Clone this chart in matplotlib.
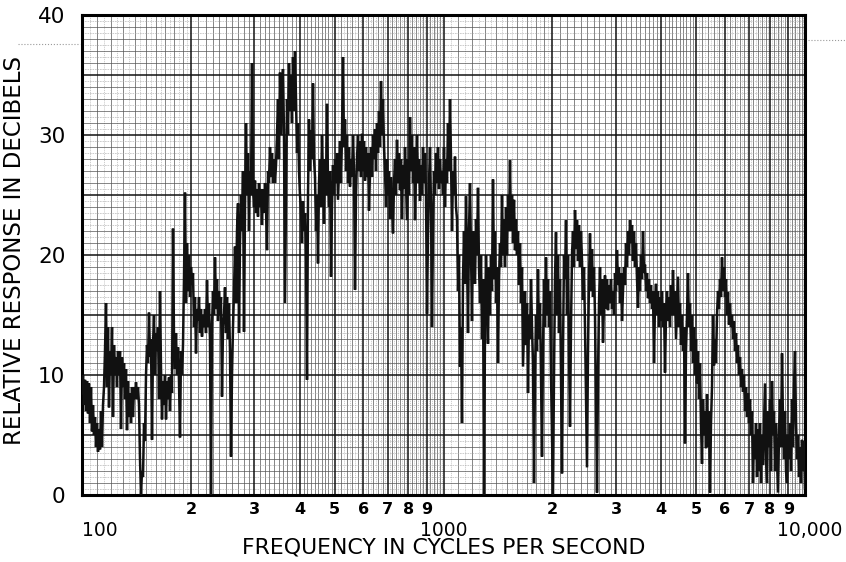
import numpy as np
import matplotlib
matplotlib.use("Agg")
import matplotlib.pyplot as plt
from matplotlib.lines import Line2D
from matplotlib.transforms import offset_copy

plt.rcParams['font.family'] = ['DejaVu Sans']

# Relative response (dB) at equal steps
# along the logarithmic frequency sweep, 100 Hz -> 10,000 Hz.
response_db = [
    8.5, 10.0, 7.5, 9.6, 7.0, 9.5, 6.8, 9.3, 6.0, 9.0,
    5.3, 7.5, 5.0, 6.5, 4.0, 6.0, 3.6, 5.5, 3.8, 7.0,
    4.0, 7.5, 9.0, 12.0, 16.0, 9.0, 14.0, 7.3, 12.0, 10.0,
    14.0, 6.5, 12.5, 10.0, 11.5, 9.0, 12.0, 10.0, 12.0, 5.5,
    11.5, 9.0, 11.0, 8.0, 10.5, 5.4, 9.5, 6.5, 8.5, 6.0,
    9.0, 6.5, 9.0, 8.0, 9.4, 8.0, 9.0, 7.5, 3.0, 0.0,
    2.0, 1.5, 6.0, 4.5, 10.0, 12.5, 11.0, 15.2, 11.5, 13.0,
    4.6, 12.5, 15.0, 10.0, 13.5, 12.0, 14.0, 8.0, 17.0, 10.5,
    6.3, 9.5, 7.5, 10.0, 6.3, 9.5, 8.0, 9.8, 7.0, 10.0,
    8.5, 22.2, 13.0, 10.5, 13.5, 10.0, 12.3, 9.5, 4.8, 12.0,
    10.0, 12.5, 18.0, 25.2, 16.0, 21.0, 17.0, 20.0, 16.5, 19.0,
    17.5, 18.5, 14.0, 16.5, 11.8, 15.5, 14.5, 16.5, 13.5, 15.5,
    13.2, 15.0, 14.0, 15.5, 13.5, 17.9, 14.0, 16.0, 13.0, 0.0,
    14.0, 17.0, 15.0, 19.8, 15.5, 18.0, 14.5, 17.0, 15.0, 16.5,
    8.2, 14.0, 15.0, 17.3, 13.5, 16.5, 13.0, 16.0, 12.0, 3.2,
    10.0, 14.0, 17.0, 20.7, 16.0, 22.0, 24.3, 13.5, 21.0, 25.0,
    22.0, 27.0, 13.6, 24.0, 31.0, 25.0, 28.5, 22.0, 27.0, 25.0,
    36.0, 25.5, 24.0, 26.2, 23.5, 25.5, 23.2, 26.0, 24.0, 25.5,
    22.5, 25.5, 23.5, 26.0, 24.0, 20.4, 27.0, 26.0, 29.0, 26.5,
    28.5, 26.0, 28.0, 26.0, 27.5, 30.0, 33.0, 28.0, 35.2, 30.0,
    34.0, 35.5, 30.0, 16.0, 25.0, 33.0, 30.0, 36.0, 32.0, 35.0,
    31.0, 36.5, 32.0, 37.0, 33.0, 28.5, 31.0, 27.0, 25.0, 23.8,
    21.0, 24.5, 22.0, 23.5, 20.0, 9.6, 25.0, 31.3, 27.0, 30.4,
    28.0, 34.3, 28.0, 26.5, 22.0, 25.0, 19.3, 26.0, 28.0, 24.0,
    30.0, 26.0, 22.6, 28.0, 25.0, 32.6, 26.0, 24.0, 27.0, 18.2,
    24.0, 27.5, 25.0, 28.0, 26.0, 28.5, 24.6, 27.0, 29.5, 26.0,
    30.0, 36.5, 29.0, 31.3, 27.0, 30.0, 26.0, 29.0, 25.7, 28.0,
    26.5, 30.0, 27.0, 17.1, 25.0, 28.0, 30.0, 27.0, 29.5, 26.5,
    30.1, 27.0, 29.5, 26.2, 29.0, 26.5, 28.5, 23.7, 27.0, 29.0,
    26.5, 30.0, 28.0, 30.5, 27.0, 31.0, 28.5, 32.0, 29.0, 34.5,
    30.0, 33.0, 29.0, 27.0, 24.0, 28.0, 25.0, 27.0, 23.0, 26.5,
    24.0, 21.8, 26.0, 28.0, 25.0, 29.6, 26.0, 28.5, 25.4, 28.0,
    23.0, 27.5, 25.5, 29.0, 26.0, 22.9, 28.0, 25.0, 31.5, 27.0,
    30.0, 26.0, 29.0, 22.9, 27.0, 30.0, 26.0, 28.0, 24.5, 27.5,
    25.0, 29.0, 26.0, 28.5, 25.0, 15.1, 22.0, 26.0, 29.0, 24.0,
    14.0, 22.0, 27.0, 25.0, 28.5, 26.0, 29.0, 25.5, 28.0, 26.0,
    27.0, 25.0, 29.0, 24.0, 28.0, 26.0, 31.0, 27.0, 33.0, 28.0,
    22.0, 27.0, 25.0, 28.2, 24.0, 23.0, 17.0, 20.0, 10.7, 14.0,
    6.0, 18.0, 22.0, 17.6, 24.9, 20.0, 13.5, 22.0, 26.0, 20.0,
    14.5, 22.0, 19.0, 17.6, 23.0, 20.0, 25.6, 19.0, 16.0, 20.0,
    13.0, 18.0, 0.0, 14.0, 20.0, 16.0, 12.6, 19.0, 15.0, 20.0,
    17.0, 26.3, 18.0, 22.0, 16.0, 19.0, 11.0, 18.0, 21.0, 19.0,
    25.0, 20.0, 23.0, 19.0, 24.0, 20.0, 25.0, 22.0, 27.9, 22.0,
    25.0, 21.0, 24.6, 20.4, 23.0, 20.0, 22.0, 17.5, 21.0, 16.0,
    19.0, 10.7, 14.0, 17.0, 12.5, 16.0, 8.5, 15.0, 13.0, 18.0,
    14.0, 11.0, 1.0, 10.0, 15.0, 12.0, 18.8, 13.0, 16.0, 10.0,
    3.2, 12.0, 18.0, 14.0, 19.8, 15.0, 18.0, 14.0, 17.0, 10.0,
    5.0, 0.0, 10.0, 18.0, 21.9, 15.0, 20.0, 13.5, 18.0, 10.0,
    1.8, 12.0, 20.0, 18.0, 22.9, 15.0, 20.0, 12.0, 5.7, 14.0,
    20.0, 22.0, 19.0, 23.75, 20.5, 22.9, 19.5, 22.5, 19.0, 22.0,
    19.5, 16.25, 19.0, 14.0, 8.0, 2.3, 12.0, 18.0, 21.8, 17.0,
    20.5, 16.5, 19.0, 15.0, 8.0, 0.2, 10.0, 16.0, 19.0, 15.0,
    18.0, 12.7, 16.0, 18.3, 15.5, 18.0, 15.4, 17.5, 16.0, 18.0,
    15.5, 17.0, 15.0, 18.5, 17.0, 20.4, 17.5, 19.0, 16.0, 18.5,
    14.5, 17.0, 19.0, 17.5, 21.0, 19.0, 22.0, 20.0, 22.9, 21.0,
    22.5, 19.5, 22.0, 19.0, 21.0, 18.0, 15.6, 19.0, 17.0, 20.0,
    18.0, 22.0, 18.5, 19.2, 17.0, 18.5, 16.4, 18.0, 16.0, 17.5,
    15.5, 17.0, 11.0, 16.0, 17.6, 15.0, 17.0, 14.0, 16.5, 14.5,
    17.0, 14.0, 16.0, 10.2, 15.0, 17.0, 14.5, 16.5, 14.0, 17.5,
    15.0, 18.75, 15.0, 17.0, 13.0, 15.5, 18.2, 14.0, 16.0, 12.5,
    15.0, 12.0, 14.0, 4.3, 12.0, 15.0, 18.5, 14.0, 16.0, 12.0,
    15.0, 11.0, 14.0, 10.0, 13.0, 9.3, 12.0, 8.0, 11.0, 6.0,
    2.6, 8.0, 5.0, 7.0, 3.9, 8.4, 4.0, 7.0, 0.2, 6.0,
    9.0, 15.0, 10.8, 13.0, 11.0, 15.0, 17.0, 15.5, 18.0, 16.5,
    19.8, 17.0, 19.0, 16.5, 18.0, 15.0, 16.9, 14.2, 16.0, 14.0,
    15.0, 13.0, 14.5, 12.0, 13.5, 11.0, 12.5, 10.0, 11.5, 9.0,
    10.5, 8.6, 10.0, 7.0, 9.0, 6.5, 8.5, 6.0, 8.0, 5.0,
    7.0, 1.0, 5.0, 3.0, 6.0, 1.5, 5.5, 2.0, 6.0, 1.0,
    5.0, 2.5, 6.0, 9.3, 3.0, 1.0, 7.0, 4.0, 8.0, 2.0,
    9.5, 5.0, 7.0, 2.0, 6.0, 3.0, 0.2, 5.0, 8.0, 4.0,
    11.8, 6.0, 3.0, 7.0, 2.0, 1.0, 5.0, 3.0, 6.0, 2.0,
    8.0, 4.0, 9.0, 12.0, 6.0, 3.0, 5.0, 1.5, 4.0, 1.0,
    4.6, 2.0, 4.5, 0.6,
]
f_start, f_stop = 100, 10000
sweep_hz = np.geomspace(f_start, f_stop, len(response_db))

y_ticks = [0, 10, 20, 30, 40]
decades = [100, 1000]
decade_digits = [2, 3, 4, 5, 6, 7, 8, 9]
decade_labels = {100: "100", 1000: "1000", 10000: "10,000"}

W, H = 846, 562
fig = plt.figure(figsize=(W / 100, H / 100), dpi=100)
fig.patch.set_facecolor("white")
ax = fig.add_axes([82 / W, 1 - 495 / H, 723 / W, 480 / H])
ax.set_xscale("log")
ax.set_xlim(f_start, f_stop)
ax.set_ylim(0, 40)

# ---- log graph-paper grid ----
fine_v, minor_v, major_v = [], [], []
for d in decades:
    for k in range(1, 10):
        major_v.append(k * d)
    for m in np.arange(1.1, 5.0, 0.1):
        if abs(m - round(m)) > 1e-6:
            minor_v.append(m * d)
    for m in np.arange(5.2, 10.0, 0.2):
        if abs(m - round(m)) > 1e-6:
            minor_v.append(m * d)
    for m in np.arange(1.05, 2.0, 0.1):
        fine_v.append(m * d)
    for m in np.arange(5.1, 10.0, 0.2):
        fine_v.append(m * d)
major_v.append(10000)

ax.vlines(fine_v, 0, 40, colors="#a8a8a8", lw=0.4, linestyles=(0, (2, 1.5)), zorder=1)
ax.vlines(minor_v, 0, 40, colors="#555555", lw=0.5, zorder=1)
ax.vlines(major_v, 0, 40, colors="#111111", lw=1.1, zorder=1.5)

fine_h = np.arange(0.5, 40, 1.0)
minor_h = [v for v in range(1, 40) if v % 5]
major_h = list(range(5, 40, 5))
ax.hlines(fine_h, f_start, f_stop, colors="#a8a8a8", lw=0.4, linestyles=(0, (3, 1.5)), zorder=1)
ax.hlines(minor_h, f_start, f_stop, colors="#555555", lw=0.5, zorder=1)
ax.hlines(major_h, f_start, f_stop, colors="#111111", lw=1.1, zorder=1.5)

# ---- response trace ----
ax.plot(sweep_hz, response_db, color="#111111", lw=1.8, solid_joinstyle="miter", zorder=3)

for s in ax.spines.values():
    s.set_linewidth(2.2)
    s.set_color("black")

ax.xaxis.set_major_locator(matplotlib.ticker.NullLocator())
ax.xaxis.set_minor_locator(matplotlib.ticker.NullLocator())
ax.set_yticks(y_ticks)
ax.set_yticklabels([str(v) for v in y_ticks])
ax.tick_params(axis="y", length=0, pad=12, labelsize=15.5)

xt = ax.get_xaxis_transform()
for d in decades:
    for k in decade_digits:
        ax.text(k * d, -0.031, str(k), transform=xt, ha="center", va="center",
                fontsize=11.5, fontweight="bold")
ax.text(f_start, -0.073, decade_labels[100],
        transform=offset_copy(xt, fig=fig, x=18, y=0, units="dots"),
        ha="center", va="center", fontsize=13.5)
ax.text(1000, -0.073, decade_labels[1000], transform=xt, ha="center", va="center", fontsize=13.5)
ax.text(f_stop, -0.073, decade_labels[10000],
        transform=offset_copy(xt, fig=fig, x=5, y=0, units="dots"),
        ha="center", va="center", fontsize=13.5)

ax.text(0.5, -0.11, "FREQUENCY IN CYCLES PER SECOND", transform=ax.transAxes,
        ha="center", va="center", fontsize=15.8)
ax.set_ylabel("RELATIVE RESPONSE IN DECIBELS", fontsize=16.5)
ax.yaxis.set_label_coords(-0.078, 0.51)

# faint scan marks outside the plot frame
fig.add_artist(Line2D([18 / W, 80 / W], [1 - 44 / H] * 2, ls=":", color="#9a9a9a", lw=0.8))
fig.add_artist(Line2D([808 / W, 1.0], [1 - 40 / H] * 2, ls=":", color="#9a9a9a", lw=0.8))

fig.savefig("out.png", dpi=100, facecolor="white")
